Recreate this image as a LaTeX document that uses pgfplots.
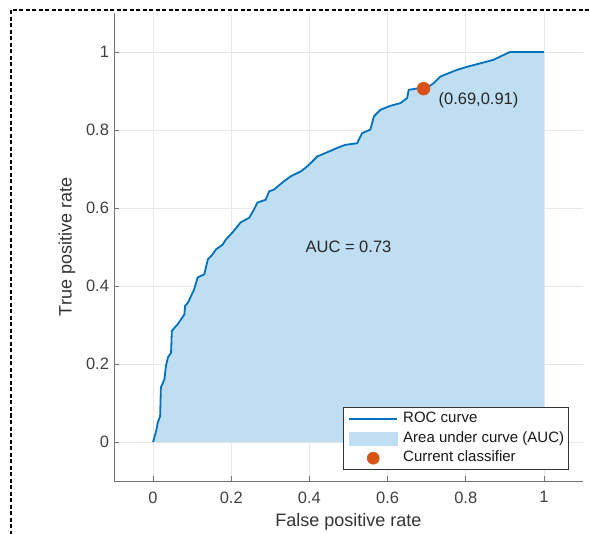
\documentclass[border=0pt]{standalone}
\usepackage{fontspec}
\setmainfont{Liberation Sans}
\usepackage{pgfplots}
\usepackage{pgfplotstable}
\pgfplotsset{compat=1.18}

\definecolor{rocblue}{RGB}{0,114,189}
\definecolor{aucfill}{RGB}{192,222,241}
\definecolor{dotorange}{RGB}{217,83,25}

% ROC curve (false positive rate, true positive rate)
\pgfplotstableread{
x y
0.000 0.000
0.008 0.029
0.012 0.050
0.018 0.066
0.020 0.140
0.029 0.161
0.033 0.195
0.038 0.217
0.046 0.229
0.048 0.285
0.063 0.302
0.080 0.327
0.082 0.349
0.089 0.357
0.105 0.391
0.114 0.422
0.131 0.430
0.140 0.468
0.152 0.481
0.161 0.494
0.178 0.506
0.186 0.519
0.203 0.537
0.224 0.563
0.246 0.575
0.258 0.596
0.267 0.614
0.288 0.621
0.297 0.643
0.309 0.647
0.334 0.668
0.352 0.681
0.378 0.694
0.390 0.703
0.403 0.715
0.420 0.732
0.441 0.741
0.471 0.754
0.492 0.762
0.522 0.766
0.535 0.792
0.556 0.801
0.565 0.835
0.582 0.852
0.607 0.862
0.633 0.869
0.650 0.882
0.654 0.903
0.679 0.907
0.700 0.908
0.718 0.920
0.735 0.937
0.752 0.944
0.777 0.954
0.803 0.962
0.845 0.973
0.871 0.980
0.896 0.992
0.913 1.000
1.000 1.000
}\roc

\begin{document}
\begin{tikzpicture}
\useasboundingbox (-114pt,-52pt) rectangle (475pt,481pt);
\begin{axis}[
  scale only axis, width=469pt, height=468pt,
  xmin=-0.1, xmax=1.1, ymin=-0.1, ymax=1.1,
  axis x line*=bottom, axis y line*=left,
  axis line style={-, black!55, line width=0.8pt},
  xtick={0,0.2,0.4,0.6,0.8,1},
  ytick={0,0.2,0.4,0.6,0.8,1},
  tick align=inside, major tick length=5pt,
  tick style={black!55, line width=0.8pt},
  grid=major, grid style={black!9, line width=0.7pt},
  /pgf/number format/assume math mode=true,
  ticklabel style={font=\fontsize{16.5}{18}\selectfont, text=black!75},
  xticklabel style={yshift=-7pt},
  yticklabel style={xshift=-1.5pt},
  xlabel={False positive rate},
  ylabel={True positive rate},
  every axis x label/.style={at={(axis description cs:0.5,-0.0876)}, anchor=center,
    font=\fontsize{18}{20}\selectfont, text=black!80},
  every axis y label/.style={at={(axis description cs:-0.1002,0.5)}, rotate=90, anchor=center,
    font=\fontsize{18}{20}\selectfont, text=black!80},
  legend style={at={(0.97,0.0235)}, anchor=south east,
    font=\fontsize{15}{17}\selectfont, draw=black!80, line width=0.6pt, fill=white,
    inner xsep=4.5pt, inner ysep=4.5pt, row sep=5.5pt, column sep=5pt,
    nodes={inner xsep=0pt, inner ysep=0pt, text height=10.5pt, text depth=3.5pt, text=black!90}},
  legend cell align=left,
]
\addplot[fill=aucfill, draw=none, forget plot] table {\roc} \closedcycle;
\addplot[rocblue, line width=1.8pt, forget plot] table {\roc};
\addplot[only marks, mark=*, mark size=6.5pt, color=dotorange, forget plot] coordinates {(0.692,0.906)};

\addlegendimage{legend image code/.code={\draw[rocblue, line width=2pt] (0pt,0pt) -- (48pt,0pt);}}
\addlegendentry{ROC curve}
\addlegendimage{legend image code/.code={\fill[aucfill] (0pt,-6.5pt) rectangle (48pt,6.5pt);}}
\addlegendentry{Area under curve (AUC)}
\addlegendimage{legend image code/.code={\fill[dotorange] (24pt,0pt) circle (6pt);}}
\addlegendentry{Current classifier}

\node[font=\fontsize{16.5}{18}\selectfont, text=black!85] at (axis cs:0.5,0.5) {AUC = 0.73};
\node[anchor=west, inner sep=0pt, font=\fontsize{16.5}{18}\selectfont, text=black!85] at (axis cs:0.73,0.876) {(0.69,0.91)};
\end{axis}
\draw[dash pattern=on 4pt off 2.5pt, line width=1.2pt] (-103pt,-60pt) -- (-103pt,471pt) -- (480pt,471pt);
\end{tikzpicture}
\end{document}
